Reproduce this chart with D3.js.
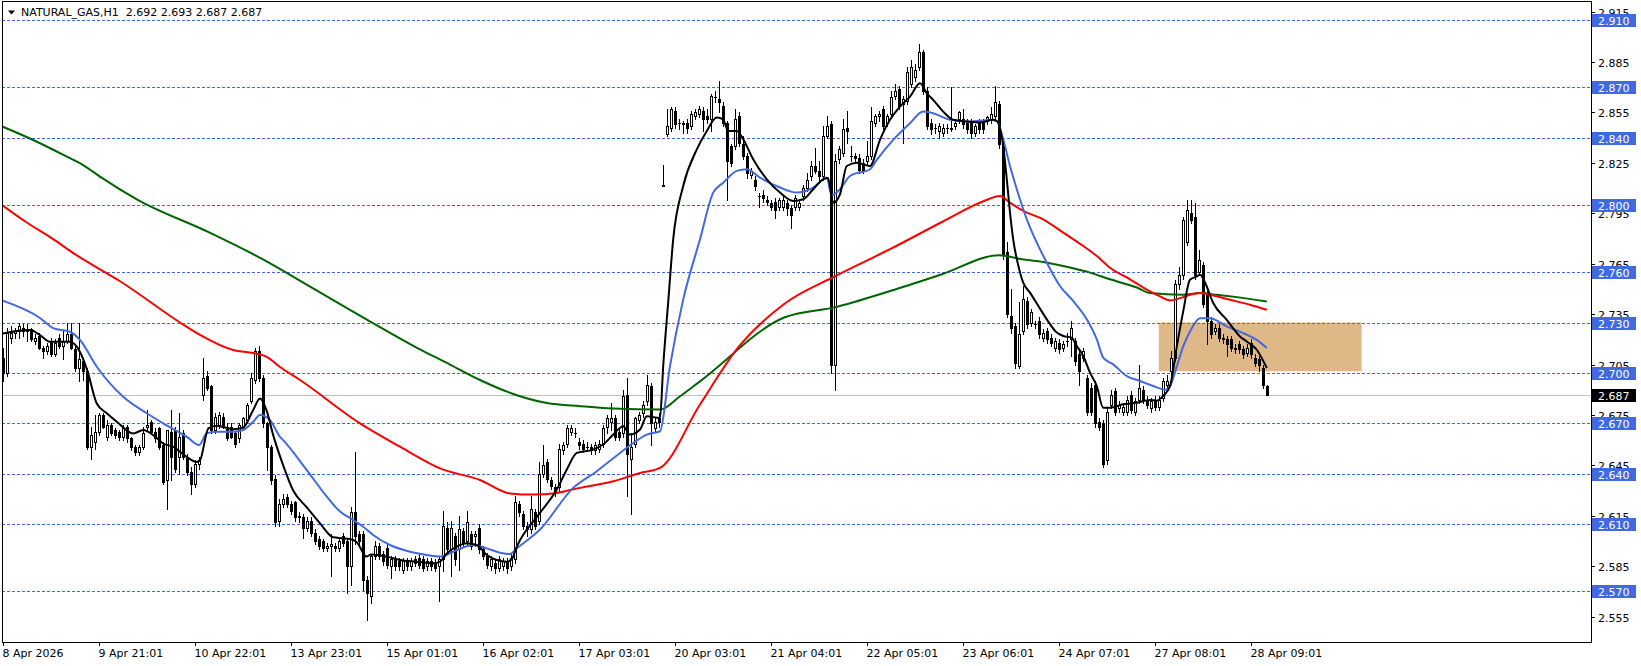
<!DOCTYPE html>
<html><head><meta charset="utf-8">
<script src="https://cdn.jsdelivr.net/npm/d3@7"></script>
<style>body{margin:0;background:#fff}svg{display:block}text{font-family:"DejaVu Sans",sans-serif;font-size:11px;white-space:pre}</style>
</head><body><svg id="c" width="1641" height="666"></svg>
<script>
const titleText = "NATURAL_GAS,H1  2.692 2.693 2.687 2.687";
const timeLabels = ["8 Apr 2026","9 Apr 21:01","10 Apr 22:01","13 Apr 23:01","15 Apr 01:01","16 Apr 02:01","17 Apr 03:01","20 Apr 03:01","21 Apr 04:01","22 Apr 05:01","23 Apr 06:01","24 Apr 07:01","27 Apr 08:01","28 Apr 09:01"];
const timeLabelBars = [0,24,48,72,96,120,144,168,192,216,240,264,288,312];
const priceTicks = [2.915,2.885,2.855,2.825,2.795,2.765,2.735,2.705,2.675,2.645,2.615,2.585,2.555];
const levelLines = [2.910,2.870,2.840,2.800,2.760,2.730,2.700,2.670,2.640,2.610,2.570];
const lastPrice = 2.687;
const zoneBars = [289,339.7];
const zonePrices = [2.730,2.701];
// [open, high, low, close] per H1 bar
const candles = [
[2.709,2.715,2.695,2.700],[2.700,2.727,2.698,2.724],[2.721,2.728,2.718,2.724],[2.724,2.727,2.721,2.725],[2.725,2.730,2.721,2.728],
[2.727,2.729,2.722,2.725],[2.725,2.729,2.719,2.726],[2.726,2.727,2.719,2.720],[2.719,2.723,2.717,2.721],[2.722,2.724,2.714,2.715],
[2.715,2.716,2.709,2.713],[2.713,2.718,2.711,2.716],[2.719,2.721,2.710,2.711],[2.711,2.720,2.710,2.718],[2.721,2.723,2.715,2.716],
[2.716,2.725,2.708,2.719],[2.719,2.730,2.718,2.723],[2.723,2.730,2.714,2.715],[2.714,2.716,2.701,2.703],[2.703,2.730,2.695,2.708],
[2.707,2.709,2.696,2.701],[2.701,2.703,2.655,2.656],[2.656,2.668,2.649,2.663],[2.659,2.675,2.655,2.665],[2.665,2.676,2.663,2.675],
[2.675,2.676,2.667,2.668],[2.662,2.672,2.660,2.669],[2.669,2.670,2.663,2.664],[2.666,2.667,2.661,2.663],[2.665,2.666,2.660,2.662],
[2.662,2.669,2.660,2.667],[2.668,2.669,2.659,2.661],[2.661,2.662,2.654,2.656],[2.656,2.657,2.651,2.653],[2.653,2.657,2.651,2.656],
[2.656,2.668,2.655,2.664],[2.668,2.678,2.666,2.669],[2.671,2.672,2.664,2.665],[2.665,2.667,2.659,2.661],[2.667,2.668,2.655,2.656],
[2.657,2.659,2.634,2.635],[2.636,2.666,2.619,2.666],[2.665,2.678,2.636,2.650],[2.666,2.668,2.641,2.643],[2.650,2.676,2.640,2.662],
[2.664,2.666,2.649,2.650],[2.650,2.652,2.639,2.641],[2.641,2.644,2.628,2.634],[2.634,2.648,2.632,2.646],[2.646,2.650,2.643,2.648],
[2.687,2.709,2.684,2.697],[2.698,2.701,2.690,2.691],[2.692,2.693,2.664,2.666],[2.666,2.676,2.664,2.674],[2.669,2.677,2.667,2.675],
[2.674,2.676,2.667,2.668],[2.668,2.670,2.660,2.661],[2.668,2.670,2.661,2.662],[2.664,2.665,2.656,2.658],[2.661,2.670,2.659,2.669],
[2.668,2.674,2.666,2.673],[2.672,2.682,2.671,2.681],[2.683,2.700,2.682,2.697],[2.696,2.715,2.694,2.713],[2.713,2.716,2.695,2.697],
[2.697,2.699,2.668,2.670],[2.670,2.671,2.642,2.656],[2.656,2.657,2.634,2.636],[2.637,2.639,2.609,2.611],[2.612,2.625,2.609,2.622],
[2.622,2.628,2.620,2.625],[2.626,2.628,2.620,2.622],[2.622,2.624,2.616,2.618],[2.623,2.624,2.612,2.614],[2.615,2.617,2.611,2.614],
[2.614,2.616,2.602,2.608],[2.608,2.614,2.606,2.612],[2.612,2.614,2.603,2.605],[2.605,2.607,2.598,2.600],[2.601,2.603,2.595,2.597],
[2.600,2.601,2.594,2.596],[2.596,2.599,2.594,2.597],[2.597,2.604,2.579,2.598],[2.597,2.599,2.594,2.596],[2.596,2.601,2.594,2.600],
[2.603,2.605,2.597,2.599],[2.600,2.602,2.569,2.585],[2.585,2.620,2.574,2.617],[2.617,2.653,2.598,2.603],[2.604,2.606,2.598,2.600],
[2.604,2.606,2.571,2.577],[2.577,2.579,2.553,2.569],[2.567,2.592,2.563,2.591],[2.591,2.600,2.589,2.597],[2.597,2.599,2.589,2.591],
[2.592,2.594,2.586,2.588],[2.596,2.598,2.584,2.586],[2.585,2.591,2.578,2.589],[2.589,2.591,2.583,2.585],[2.588,2.590,2.583,2.585],
[2.583,2.590,2.581,2.588],[2.588,2.590,2.583,2.585],[2.585,2.590,2.583,2.588],[2.589,2.591,2.585,2.587],[2.590,2.592,2.584,2.586],
[2.589,2.591,2.582,2.584],[2.585,2.590,2.583,2.588],[2.588,2.590,2.583,2.585],[2.587,2.589,2.582,2.584],[2.585,2.591,2.564,2.589],
[2.589,2.618,2.582,2.609],[2.608,2.611,2.592,2.595],[2.595,2.612,2.579,2.608],[2.603,2.605,2.586,2.589],[2.595,2.615,2.583,2.607],
[2.606,2.608,2.597,2.599],[2.600,2.618,2.597,2.611],[2.604,2.606,2.595,2.597],[2.603,2.606,2.597,2.604],[2.608,2.610,2.593,2.595],
[2.595,2.597,2.589,2.591],[2.591,2.593,2.584,2.586],[2.585,2.591,2.583,2.589],[2.587,2.589,2.581,2.584],[2.584,2.591,2.582,2.589],
[2.585,2.590,2.583,2.588],[2.588,2.590,2.581,2.584],[2.585,2.592,2.583,2.590],[2.589,2.627,2.587,2.623],[2.622,2.624,2.615,2.617],
[2.616,2.618,2.607,2.609],[2.609,2.611,2.603,2.607],[2.607,2.627,2.605,2.619],[2.617,2.619,2.607,2.609],[2.612,2.647,2.610,2.640],
[2.640,2.657,2.638,2.645],[2.647,2.649,2.635,2.637],[2.636,2.638,2.631,2.633],[2.632,2.634,2.627,2.629],[2.632,2.658,2.630,2.655],
[2.654,2.659,2.652,2.657],[2.658,2.669,2.656,2.667],[2.665,2.669,2.663,2.667],[2.664,2.667,2.662,2.664],[2.659,2.661,2.655,2.657],
[2.658,2.660,2.653,2.655],[2.656,2.659,2.654,2.656],[2.656,2.658,2.652,2.654],[2.654,2.659,2.652,2.657],[2.655,2.660,2.653,2.658],
[2.658,2.669,2.656,2.667],[2.668,2.675,2.664,2.673],[2.671,2.682,2.666,2.673],[2.673,2.675,2.660,2.662],[2.665,2.667,2.660,2.662],
[2.664,2.690,2.662,2.686],[2.687,2.697,2.627,2.652],[2.649,2.664,2.616,2.656],[2.658,2.674,2.656,2.673],[2.672,2.677,2.670,2.675],
[2.676,2.683,2.674,2.681],[2.683,2.699,2.681,2.693],[2.692,2.694,2.657,2.670],[2.667,2.674,2.665,2.671],[2.673,2.676,2.668,2.671],
[2.812,2.824,2.811,2.811],[2.842,2.857,2.841,2.847],[2.846,2.858,2.844,2.857],[2.856,2.858,2.846,2.848],[2.849,2.851,2.845,2.849],
[2.848,2.850,2.843,2.849],[2.849,2.851,2.843,2.846],[2.847,2.856,2.845,2.854],[2.853,2.857,2.851,2.855],[2.854,2.859,2.852,2.857],
[2.856,2.858,2.844,2.851],[2.853,2.857,2.849,2.851],[2.851,2.866,2.844,2.865],[2.864,2.868,2.861,2.864],[2.863,2.874,2.855,2.861],
[2.859,2.861,2.847,2.849],[2.849,2.850,2.803,2.826],[2.835,2.836,2.823,2.825],[2.835,2.857,2.833,2.851],[2.853,2.855,2.835,2.837],
[2.836,2.841,2.827,2.829],[2.829,2.831,2.816,2.819],[2.818,2.822,2.816,2.820],[2.815,2.817,2.809,2.811],[2.805,2.807,2.799,2.805],
[2.806,2.809,2.802,2.804],[2.803,2.805,2.800,2.802],[2.801,2.803,2.797,2.799],[2.802,2.804,2.792,2.797],[2.799,2.804,2.797,2.803],
[2.799,2.805,2.797,2.803],[2.801,2.803,2.794,2.798],[2.798,2.800,2.786,2.794],[2.799,2.806,2.797,2.804],[2.799,2.803,2.797,2.801],
[2.805,2.812,2.803,2.810],[2.810,2.819,2.808,2.815],[2.817,2.826,2.815,2.823],[2.823,2.834,2.819,2.820],[2.820,2.826,2.815,2.817],
[2.817,2.847,2.815,2.841],[2.841,2.853,2.840,2.847],[2.848,2.850,2.700,2.705],[2.705,2.830,2.690,2.826],[2.827,2.835,2.825,2.833],
[2.831,2.851,2.829,2.845],[2.846,2.856,2.837,2.844],[2.829,2.835,2.826,2.829],[2.829,2.831,2.826,2.828],[2.828,2.830,2.819,2.821],
[2.825,2.827,2.819,2.821],[2.826,2.838,2.824,2.829],[2.829,2.858,2.827,2.850],[2.849,2.854,2.847,2.853],[2.853,2.856,2.850,2.854],
[2.857,2.859,2.845,2.847],[2.849,2.854,2.847,2.853],[2.854,2.868,2.852,2.864],[2.865,2.872,2.863,2.868],[2.869,2.871,2.857,2.859],
[2.860,2.865,2.837,2.863],[2.862,2.882,2.860,2.879],[2.872,2.886,2.870,2.882],[2.876,2.884,2.874,2.880],[2.882,2.896,2.880,2.891],
[2.891,2.892,2.866,2.868],[2.868,2.870,2.845,2.847],[2.849,2.851,2.842,2.845],[2.846,2.848,2.843,2.846],[2.844,2.849,2.840,2.847],
[2.843,2.848,2.841,2.846],[2.846,2.848,2.843,2.846],[2.845,2.870,2.844,2.846],[2.847,2.851,2.845,2.849],[2.851,2.856,2.849,2.855],
[2.851,2.857,2.846,2.848],[2.849,2.851,2.843,2.845],[2.849,2.851,2.840,2.843],[2.843,2.848,2.841,2.847],[2.849,2.851,2.843,2.845],
[2.849,2.851,2.843,2.845],[2.850,2.853,2.848,2.852],[2.851,2.858,2.849,2.854],[2.853,2.871,2.851,2.861],[2.860,2.862,2.834,2.836],
[2.836,2.838,2.768,2.770],[2.772,2.778,2.733,2.735],[2.734,2.750,2.724,2.727],[2.728,2.730,2.703,2.706],[2.704,2.742,2.703,2.723],
[2.725,2.752,2.723,2.744],[2.743,2.745,2.727,2.729],[2.730,2.738,2.728,2.736],[2.729,2.731,2.727,2.729],[2.731,2.733,2.721,2.723],
[2.721,2.726,2.719,2.724],[2.725,2.727,2.718,2.720],[2.721,2.723,2.716,2.718],[2.715,2.721,2.713,2.719],[2.718,2.720,2.712,2.714],
[2.715,2.719,2.713,2.717],[2.719,2.724,2.716,2.719],[2.720,2.731,2.710,2.727],[2.719,2.721,2.705,2.707],[2.711,2.713,2.693,2.701],
[2.709,2.715,2.707,2.713],[2.697,2.699,2.675,2.677],[2.691,2.694,2.675,2.677],[2.693,2.695,2.668,2.670],[2.671,2.673,2.666,2.668],
[2.670,2.672,2.644,2.646],[2.648,2.679,2.646,2.677],[2.681,2.690,2.679,2.687],[2.689,2.691,2.675,2.677],[2.679,2.683,2.677,2.681],
[2.677,2.682,2.675,2.680],[2.677,2.686,2.675,2.684],[2.687,2.689,2.676,2.678],[2.677,2.685,2.675,2.683],[2.684,2.705,2.682,2.691],
[2.690,2.692,2.682,2.684],[2.684,2.686,2.679,2.681],[2.679,2.685,2.677,2.683],[2.684,2.686,2.678,2.680],[2.680,2.686,2.678,2.684],
[2.685,2.697,2.683,2.695],[2.693,2.699,2.691,2.695],[2.701,2.713,2.699,2.709],[2.709,2.755,2.707,2.753],[2.753,2.763,2.750,2.758],
[2.758,2.793,2.756,2.791],[2.778,2.803,2.776,2.797],[2.795,2.803,2.789,2.791],[2.793,2.801,2.756,2.758],[2.760,2.773,2.758,2.767],
[2.764,2.766,2.739,2.741],[2.747,2.749,2.717,2.731],[2.731,2.733,2.721,2.723],[2.725,2.729,2.723,2.727],[2.727,2.729,2.719,2.721],
[2.721,2.723,2.718,2.720],[2.720,2.722,2.710,2.717],[2.720,2.722,2.713,2.715],[2.715,2.717,2.712,2.714],[2.717,2.719,2.712,2.714],
[2.714,2.716,2.709,2.711],[2.712,2.717,2.710,2.715],[2.718,2.720,2.709,2.711],[2.709,2.711,2.704,2.706],[2.708,2.710,2.701,2.705],
[2.703,2.705,2.691,2.693],[2.692,2.693,2.687,2.687]
];
// moving averages: [bar, value]
const maFast = [[0,2.7235],[6.8,2.7255],[9.3,2.7225],[11.8,2.7185],[16.8,2.7185],[19.3,2.7125],[21.1,2.7017],[23.5,2.6818],[26,2.676],[28.5,2.671],[32.6,2.664],[35.1,2.666],[37.6,2.663],[40.1,2.658],[42.6,2.656],[46,2.650],[48.5,2.647],[49.3,2.648],[51.4,2.667],[53.5,2.6685],[57.6,2.6665],[60.1,2.6675],[62.6,2.678],[64.3,2.6848],[65.9,2.678],[67.6,2.663],[70.1,2.645],[72.6,2.630],[76,2.620],[79.3,2.6105],[82.6,2.6022],[85.1,2.6016],[87.6,2.6006],[88.6,2.599],[90.9,2.5907],[92.1,2.592],[96,2.5907],[99.3,2.5887],[103.5,2.5877],[107.6,2.5867],[109.3,2.5877],[111,2.5926],[113.5,2.5966],[116,2.5986],[118.5,2.5976],[121,2.5917],[123.5,2.5887],[126,2.5877],[127.2,2.589],[128.5,2.5966],[134.3,2.6167],[138.5,2.6306],[141,2.6425],[143.5,2.6524],[147.6,2.6544],[150.1,2.6574],[152.6,2.6633],[155.1,2.6683],[156.8,2.6633],[159.3,2.6663],[161,2.6742],[164.3,2.6732],[165.1,2.704],[166.4,2.7436],[167.6,2.7795],[170.1,2.8112],[173.5,2.833],[176,2.844],[178.5,2.852],[180.1,2.8509],[181.3,2.844],[183.5,2.844],[185.1,2.839],[187.6,2.8271],[191,2.8152],[194.3,2.8073],[197.6,2.8023],[200.1,2.8033],[202.6,2.8093],[205.1,2.8152],[206.3,2.816],[207.6,2.8013],[209.3,2.8063],[211,2.8231],[213.5,2.8251],[216.8,2.8231],[219.3,2.8387],[221.8,2.8506],[224.3,2.8585],[226.8,2.8644],[229.3,2.8724],[231,2.8664],[232.6,2.8625],[235.1,2.8555],[237.6,2.8506],[241,2.8496],[244.3,2.849],[247.6,2.8506],[248.5,2.8499],[250.1,2.835],[251,2.8152],[251.8,2.7954],[252.6,2.7795],[253.9,2.7636],[255.1,2.7537],[256.8,2.7478],[258.9,2.7398],[261,2.7319],[263.5,2.724],[265.1,2.722],[267.2,2.721],[268.5,2.716],[270.1,2.7101],[271.8,2.7002],[273.5,2.6922],[275.1,2.6793],[276.8,2.6793],[280.1,2.6813],[283.5,2.6823],[286.8,2.6839],[288.5,2.6835],[290.1,2.6863],[291.8,2.6922],[293.5,2.7158],[295.1,2.7366],[296.8,2.7554],[298.5,2.7574],[299.3,2.7584],[300.6,2.7535],[302.6,2.7416],[306,2.7316],[309.3,2.7217],[311,2.7187],[313.5,2.7138],[316,2.7029]];
const maMid = [[0,2.743],[9.3,2.7327],[12.6,2.7267],[16.8,2.7245],[19.3,2.7196],[23.5,2.7037],[30.1,2.6858],[36,2.676],[40.1,2.670],[46,2.662],[49.1,2.6571],[51,2.6641],[53.5,2.665],[57.6,2.665],[60.1,2.666],[62.6,2.671],[64.3,2.675],[66.8,2.672],[69.3,2.662],[70.1,2.660],[76,2.6422],[81,2.6264],[84.3,2.6175],[87.6,2.6125],[90.1,2.6085],[92.6,2.6036],[96.8,2.5976],[101.8,2.5936],[106,2.5917],[109.3,2.5907],[112.6,2.5936],[117.6,2.5976],[121,2.5956],[124.3,2.593],[126.8,2.5922],[128.5,2.5956],[134.3,2.6068],[142.6,2.6316],[148.5,2.6415],[154.3,2.6524],[157.6,2.6583],[161,2.6633],[164.3,2.6653],[166.8,2.704],[170.1,2.7436],[174.3,2.7795],[177.6,2.8073],[180.1,2.8132],[183.5,2.8202],[186,2.8212],[189.3,2.8162],[194.3,2.8103],[198.5,2.8073],[202.6,2.8103],[206,2.8162],[207.2,2.8057],[209.3,2.8093],[211.8,2.8172],[216.8,2.8212],[218.5,2.8268],[222.6,2.8387],[226.8,2.8486],[230.1,2.8555],[232.6,2.8545],[236.8,2.8506],[241.8,2.8496],[246.8,2.8505],[248.5,2.8499],[250.1,2.839],[251.8,2.8231],[253.5,2.8093],[256,2.7914],[258.5,2.7775],[261,2.7656],[264.3,2.7517],[267.6,2.7428],[271,2.7319],[273.5,2.72],[275.1,2.7091],[277.6,2.7051],[281,2.6981],[284.3,2.6952],[287.6,2.6922],[290.8,2.690],[291.8,2.692],[293.5,2.7039],[295.1,2.7158],[296.8,2.7247],[299.3,2.7326],[301.8,2.7326],[306,2.7277],[310.1,2.7237],[313.5,2.7197],[316,2.7148]];
const maSlow = [[0,2.7996],[5.8,2.7898],[12.4,2.7799],[18.9,2.7693],[25.5,2.760],[28.8,2.7553],[44.3,2.730],[49.3,2.7226],[57.6,2.7136],[62.6,2.7118],[66,2.7096],[69.3,2.7035],[74.3,2.6958],[89.3,2.670],[99.3,2.6561],[109.3,2.6432],[119.3,2.6363],[126.8,2.6283],[132.6,2.6276],[138.5,2.6286],[144.3,2.6316],[152.6,2.6355],[159.3,2.6405],[164.3,2.6435],[174.3,2.6812],[183.8,2.7150],[195.5,2.7413],[208.5,2.758],[221.8,2.7736],[234.8,2.7898],[245.3,2.8023],[249.3,2.8053],[251.8,2.8013],[255.1,2.7964],[260.1,2.7914],[265.1,2.7835],[270.1,2.7755],[273.5,2.7696],[276.8,2.7626],[281.8,2.7557],[286.8,2.7485],[289.3,2.7455],[291.8,2.7431],[294.3,2.7445],[296.8,2.7465],[299.3,2.7475],[301.8,2.7465],[306.8,2.7435],[311.8,2.7406],[316,2.7376]];
const maLong = [[0,2.8465],[7.6,2.8386],[16,2.8287],[20.1,2.8237],[24.3,2.8168],[33.5,2.8033],[51.6,2.7836],[64.7,2.768],[77.8,2.75],[90.9,2.7319],[103.9,2.7145],[111.8,2.705],[119.3,2.6958],[127.6,2.6875],[136,2.6821],[144.3,2.6802],[152.6,2.6788],[164.3,2.6782],[169.3,2.6861],[174.3,2.695],[195.5,2.7331],[208.5,2.7393],[221.8,2.7487],[234.8,2.7587],[249.1,2.770],[254.8,2.7676],[260.1,2.766],[266.8,2.7627],[271.8,2.7597],[276.8,2.7557],[283.5,2.7508],[286.8,2.7475],[295,2.7465],[299.3,2.7475],[303.5,2.7465],[308.5,2.7451],[316,2.7425]];

const svg = d3.select("#c");
const W = 1641, H = 666;
const plot = {left: 2, top: 2, right: 1591, bottom: 642};
const x = d3.scaleLinear().domain([0, 316]).range([2.8, 1266.8]);
const y = d3.scaleLinear().domain([2.570, 2.910]).range([591.4, 20]);

svg.append("rect").attr("width", W).attr("height", H).attr("fill", "#fff");
svg.append("defs").append("clipPath").attr("id", "pc").append("rect")
  .attr("x", plot.left + 1).attr("y", plot.top + 1)
  .attr("width", plot.right - plot.left - 1).attr("height", plot.bottom - plot.top - 1);
const g = svg.append("g").attr("clip-path", "url(#pc)");

// zone rectangle
g.append("rect")
  .attr("x", x(zoneBars[0])).attr("width", x(zoneBars[1]) - x(zoneBars[0]))
  .attr("y", y(zonePrices[0])).attr("height", y(zonePrices[1]) - y(zonePrices[0]))
  .attr("fill", "#DEB887");

// dashed level lines
g.selectAll("line.lvl").data(levelLines).join("line")
  .attr("x1", plot.left).attr("x2", plot.right)
  .attr("y1", d => Math.round(y(d)) + 0.5).attr("y2", d => Math.round(y(d)) + 0.5)
  .attr("stroke", "#4169E1").attr("stroke-width", 1).attr("stroke-dasharray", "3,2");

// last price line
g.append("line").attr("x1", plot.left).attr("x2", plot.right)
  .attr("y1", Math.round(y(lastPrice)) + 0.5).attr("y2", Math.round(y(lastPrice)) + 0.5)
  .attr("stroke", "#C0C0C0").attr("stroke-width", 1);

// candles
const cg = g.append("g");
candles.forEach((d, i) => {
  const [o, h, l, c] = d;
  const cx = Math.round(x(i));
  cg.append("line").attr("x1", cx + 0.5).attr("x2", cx + 0.5)
    .attr("y1", Math.round(y(h))).attr("y2", Math.round(y(l)) + 1)
    .attr("stroke", "#000").attr("stroke-width", 1);
  const yt = Math.round(y(Math.max(o, c))), yb = Math.round(y(Math.min(o, c)));
  if (yb - yt < 1) {
    cg.append("rect").attr("x", cx - 1).attr("y", yt).attr("width", 3).attr("height", 1).attr("fill", "#000");
  } else if (c > o) {
    cg.append("rect").attr("x", cx - 0.5).attr("y", yt + 0.5).attr("width", 2).attr("height", Math.max(1, yb - yt))
      .attr("fill", "#fff").attr("stroke", "#000").attr("stroke-width", 1);
  } else {
    cg.append("rect").attr("x", cx - 1).attr("y", yt).attr("width", 3).attr("height", Math.max(1, yb - yt + 1)).attr("fill", "#000");
  }
});

// moving averages
const line = d3.line().x(d => x(d[0])).y(d => y(d[1])).curve(d3.curveMonotoneX);
[[maLong, "#006400"], [maSlow, "#FF0000"], [maMid, "#4169E1"], [maFast, "#000000"]].forEach(([data, col]) => {
  g.append("path").datum(data).attr("d", line).attr("fill", "none")
    .attr("stroke", col).attr("stroke-width", 2).attr("stroke-linejoin", "round");
});

// frame
svg.append("rect").attr("x", plot.left + 0.5).attr("y", plot.top - 0.5)
  .attr("width", plot.right - plot.left).attr("height", plot.bottom - plot.top + 1)
  .attr("fill", "none").attr("stroke", "#000").attr("stroke-width", 1);

// right price axis ticks
priceTicks.forEach(p => {
  const yy = Math.round(y(p)) + 0.5;
  svg.append("line").attr("x1", plot.right).attr("x2", plot.right + 4).attr("y1", yy).attr("y2", yy).attr("stroke", "#000");
  svg.append("text").attr("x", plot.right + 7).attr("y", yy + 4).attr("fill", "#000").text(d3.format(".3f")(p));
});
// level labels
levelLines.forEach(p => {
  const yy = y(p);
  svg.append("rect").attr("x", plot.right + 1).attr("y", Math.round(yy) - 6).attr("width", 44).attr("height", 13).attr("fill", "#4169E1");
  svg.append("text").attr("x", plot.right + 7).attr("y", Math.round(yy) + 4.5).attr("fill", "#fff").text(d3.format(".3f")(p));
});
{
  const yy = y(lastPrice);
  svg.append("rect").attr("x", plot.right + 1).attr("y", Math.round(yy) - 6).attr("width", 44).attr("height", 13).attr("fill", "#000");
  svg.append("text").attr("x", plot.right + 7).attr("y", Math.round(yy) + 4.5).attr("fill", "#fff").text(d3.format(".3f")(lastPrice));
}

// time axis
timeLabelBars.forEach((b, k) => {
  const xx = Math.round(x(b)) + 0.5;
  svg.append("line").attr("x1", xx).attr("x2", xx).attr("y1", plot.bottom).attr("y2", plot.bottom + 4).attr("stroke", "#000");
  svg.append("text").attr("x", xx - 1).attr("y", 657).attr("fill", "#000").text(timeLabels[k]);
});

// title
svg.append("path").attr("d", "M8,10.5 L15,10.5 L11.5,14.5 Z").attr("fill", "#000");
svg.append("text").attr("x", 21).attr("y", 16).attr("fill", "#000").attr("xml:space", "preserve").text(titleText);
</script></body></html>
